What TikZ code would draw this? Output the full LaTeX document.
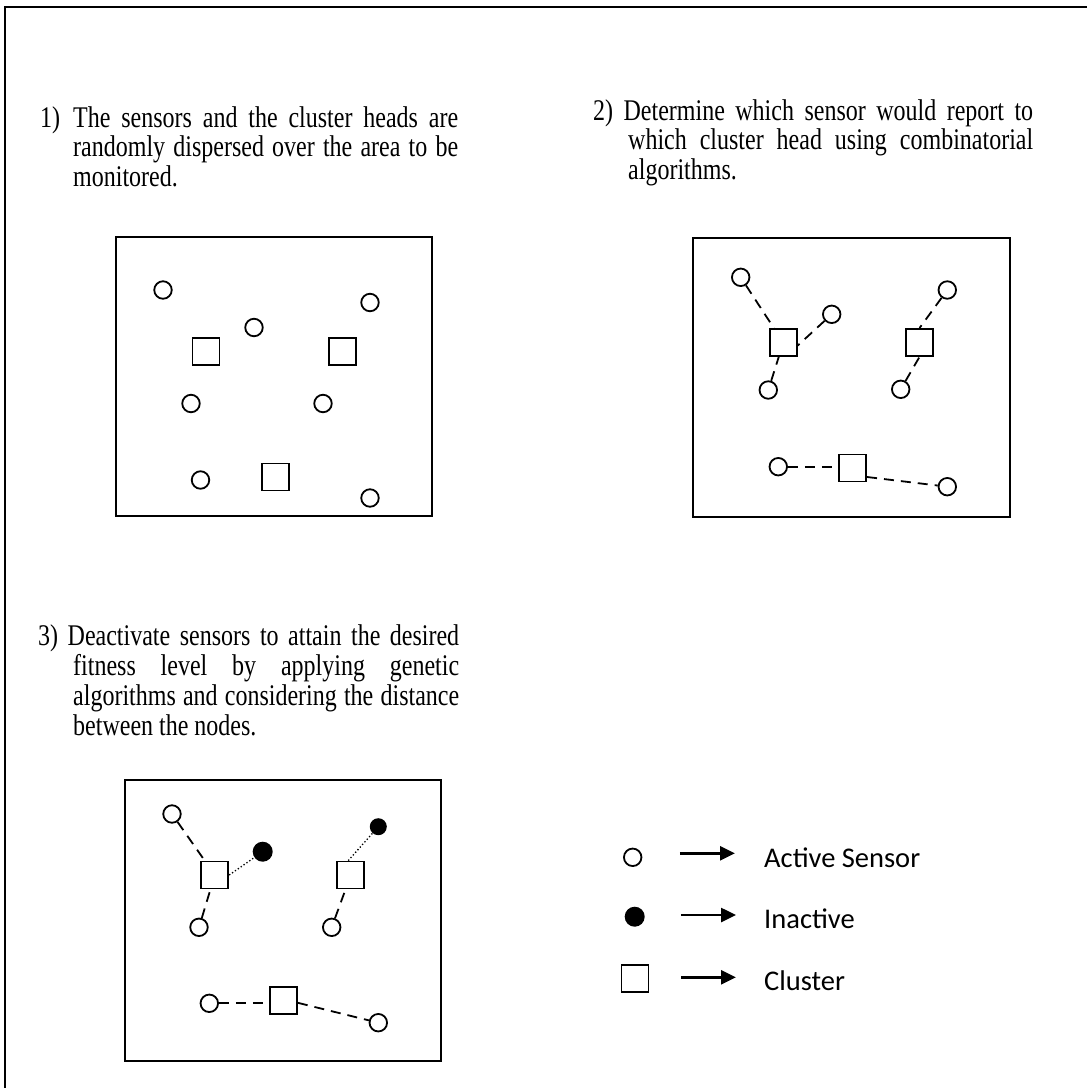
\documentclass[tikz,border=0pt]{standalone}
\usepackage{fontspec}
\setmainfont{Liberation Serif}[FakeStretch=0.8]
\newfontfamily\legendfont{Carlito}
\usetikzlibrary{arrows.meta}
\begin{document}
\begin{tikzpicture}[x=1pt,y=-1pt,
  txt/.style={anchor=base west,inner sep=0pt,font=\fontsize{30}{30}\selectfont},
  lgd/.style={anchor=base west,inner sep=0pt,font=\legendfont\fontsize{28.5}{32}\selectfont},
  sensor/.style={circle,draw,line width=1.8pt,minimum size=17.5pt,inner sep=0pt},
  idle/.style={circle,fill=black,inner sep=0pt,minimum size=#1},
  head/.style={rectangle,draw,line width=1.8pt,minimum size=27pt,inner sep=0pt},
  link/.style={line width=1.8pt,dash pattern=on 10pt off 7pt},
  weak/.style={line width=1.3pt,dash pattern=on 1.3pt off 2.2pt},
  panel/.style={line width=2.2pt},
  pointer/.style={line width=2.6pt,-{Triangle[length=15pt,width=14pt]}}
]
\useasboundingbox (0,0) rectangle (1087,1088);

% outer frame (only top and left edges fall on the page)
\begin{scope}
  \clip (0,0) rectangle (1087,1088);
  \draw[line width=2.4pt] (5,7) rectangle (1120,1120);
\end{scope}

% step descriptions
\node[txt] (t1a) at (40,127) {\makebox[33pt][l]{1)}\makebox[385pt][s]{The sensors and the cluster heads are}};
\node[txt] (t1b) at (73,156.5) {\makebox[385pt][s]{randomly dispersed over the area to be}};
\node[txt] (t1c) at (73,186) {monitored.};

\node[txt] (t2a) at (593,120) {\makebox[440pt][s]{2) Determine which sensor would report to}};
\node[txt] (t2b) at (628,149.5) {\makebox[405pt][s]{which cluster head using combinatorial}};
\node[txt] (t2c) at (628,179) {algorithms.};

\node[txt] (t3a) at (38,645.5) {\makebox[421pt][s]{3) Deactivate sensors to attain the desired}};
\node[txt] (t3b) at (73,675.5) {\makebox[386pt][s]{fitness level by applying genetic}};
\node[txt] (t3c) at (73,705.5) {\makebox[386pt][s]{algorithms and considering the distance}};
\node[txt] (t3d) at (73,735.5) {between the nodes.};

% panel 1: random deployment
\draw[panel] (116,237) rectangle (432,516);
\node[sensor] (p1s1) at (163,290) {};
\node[sensor] (p1s2) at (254,327.5) {};
\node[sensor] (p1s3) at (370,302.5) {};
\node[sensor] (p1s4) at (191,403.5) {};
\node[sensor] (p1s5) at (323,403.5) {};
\node[sensor] (p1s6) at (200.5,480) {};
\node[sensor] (p1s7) at (370,498) {};
\node[head] (p1h1) at (206,351.5) {};
\node[head] (p1h2) at (342.3,351.5) {};
\node[head] (p1h3) at (275.2,477) {};

% panel 2: sensors assigned to cluster heads
\draw[panel] (693,238) rectangle (1010,517);
\node[head] (p2h1) at (783.3,342.5) {};
\node[head] (p2h2) at (919.5,342.5) {};
\node[head] (p2h3) at (852.7,468) {};
\node[sensor] (p2a) at (740.7,277.3) {};
\node[sensor] (p2b) at (831.7,314.3) {};
\node[sensor] (p2c) at (768.3,390) {};
\node[sensor] (p2d) at (947.3,290) {};
\node[sensor] (p2e) at (900.7,389.3) {};
\node[sensor] (p2f) at (778.3,466.7) {};
\node[sensor] (p2g) at (947.3,486.7) {};
\draw[link] (p2a) -- (p2h1);
\draw[link] (p2b) -- (p2h1.-12);
\draw[link] (p2c) -- (p2h1);
\draw[link] (p2d) -- (p2h2.north);
\draw[link] (p2e) -- (p2h2.south);
\draw[link] (p2f) -- (p2f -| p2h3.west);
\draw[link] (p2h3.-32) -- (p2g);

% panel 3: some sensors switched off
\draw[panel] (125,780) rectangle (441,1061);
\node[head] (p3h1) at (214.8,875) {};
\node[head] (p3h2) at (350.8,875) {};
\node[head] (p3h3) at (283.5,1000.8) {};
\node[sensor] (p3a) at (172,814) {};
\node[idle=20pt] (p3x1) at (262.7,851.7) {};
\node[idle=17pt] (p3x2) at (378.3,826.7) {};
\node[sensor] (p3c) at (199,927.3) {};
\node[sensor] (p3e) at (331.7,927.3) {};
\node[sensor] (p3f) at (209.3,1003.3) {};
\node[sensor] (p3g) at (378.3,1022.7) {};
\draw[link] (p3a) -- (p3h1);
\draw[link] (p3c) -- (p3h1);
\draw[link] (p3e) -- (p3h2);
\draw[link] (p3f) -- (p3f -| p3h3.west);
\draw[link] (p3h3.-8) -- (p3g);
\draw[weak] (p3h1.east) -- (p3x1);
\draw[weak] (p3h2.100) -- (p3x2);

% legend
\node[sensor] (ls1) at (632.7,857.3) {};
\node[idle=20pt] (ls2) at (634.7,916.7) {};
\node[head] (ls3) at (635,978.8) {};
\node[lgd] (lt1) at (764,867) {Active Sensor};
\node[lgd] (lt2) at (764,928.3) {Inactive};
\node[lgd] (lt3) at (764,990.7) {Cluster};
\draw[pointer] ([xshift=37.5pt,yshift=4pt]ls1.east) -- ([xshift=-29pt]lt1.west |- 0,853.3);
\draw[pointer] ([xshift=36pt,yshift=1.7pt]ls2.east) -- ([xshift=-28pt]lt2.west |- 0,915);
\draw[pointer] ([xshift=32pt,yshift=1.5pt]ls3.east) -- ([xshift=-28pt]lt3.west |- 0,977.3);
\end{tikzpicture}
\end{document}
